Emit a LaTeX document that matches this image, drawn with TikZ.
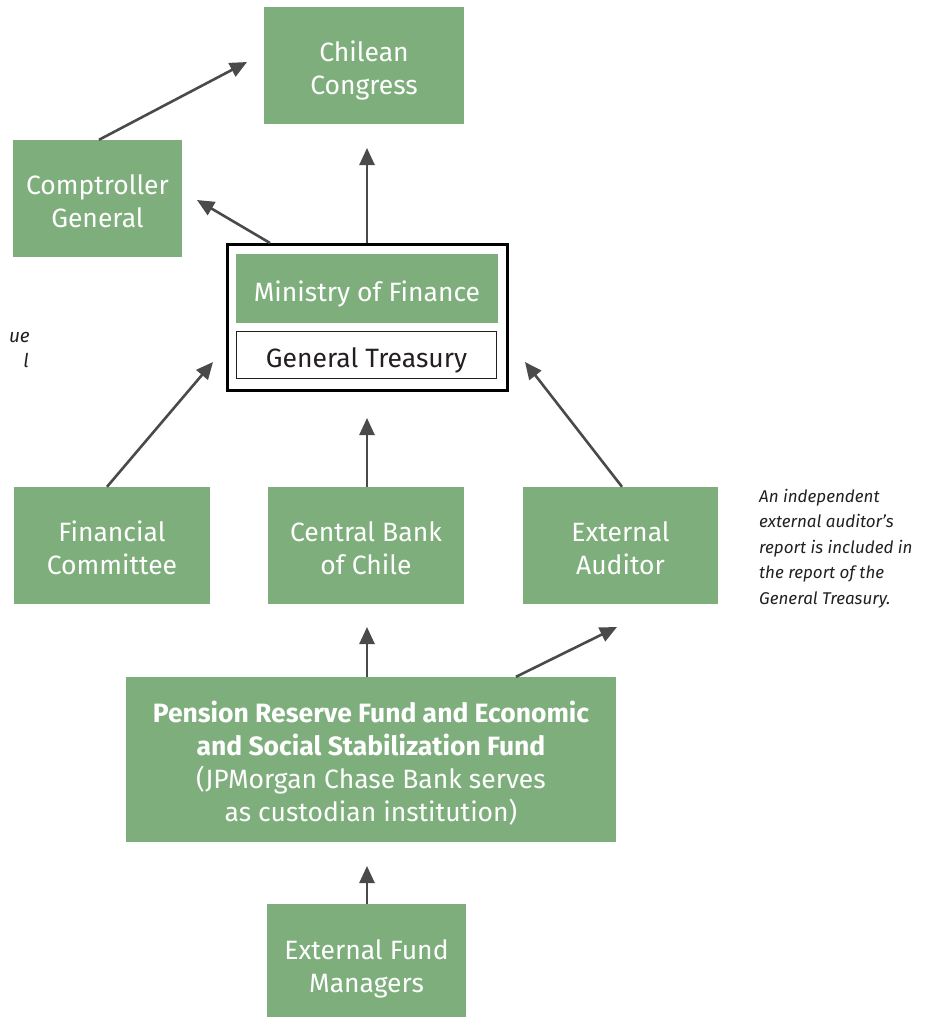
\documentclass[tikz,border=0pt]{standalone}
\usepackage{fontspec}
\setmainfont{Fira Sans}
\usetikzlibrary{arrows.meta,calc}
\definecolor{boxgreen}{HTML}{7EAE7C}
\definecolor{arrowgray}{HTML}{4A4A4A}
\definecolor{textdark}{HTML}{231F20}
\newcommand{\topstr}{\rule{0pt}{31pt}}
\newcommand{\botstr}{\rule[-6pt]{0pt}{6pt}}
\begin{document}
\begin{tikzpicture}[x=1pt,y=-1pt,
 gbox/.style={fill=boxgreen, text=white, align=center, font=\fontsize{26.5}{33}\selectfont, inner sep=0pt},
 link/.style={draw=arrowgray, line width=2.6pt, -{Triangle[length=17pt,width=15pt]}},
 note/.style={text=textdark, align=left, font=\fontsize{17}{25.5}\selectfont\itshape, inner sep=0pt},
]
\useasboundingbox (0,0) rectangle (926,1017);
\node[gbox, minimum width=200, minimum height=117] (congress) at (364,65.5) {\topstr Chilean\\Congress\botstr};
\node[gbox, minimum width=169, minimum height=117] (comptroller) at (97.5,198.5) {\topstr Comptroller\\General\botstr};
\node[draw=black, line width=3pt, minimum width=280, minimum height=146, inner sep=0pt] (outer) at (367.5,317.5) {};
\node[gbox, minimum width=262, minimum height=69] (ministry) at (367,288.5) {\topstr Ministry of Finance\botstr};
\node[draw=textdark, line width=1.2pt, text=textdark, align=center, font=\fontsize{26.5}{33}\selectfont, minimum width=260, minimum height=47, inner sep=0pt] (treasury) at (366.5,355) {\topstr General Treasury\botstr};
\node[gbox, minimum width=196, minimum height=117] (fincomm) at (112,545.5) {\topstr Financial\\Committee\botstr};
\node[gbox, minimum width=196, minimum height=117] (centralbank) at (366,545.5) {\topstr Central Bank\\of Chile\botstr};
\node[gbox, minimum width=195, minimum height=117] (extaud) at (620.5,545.5) {\topstr External\\Auditor\botstr};
\node[gbox, minimum width=490, minimum height=165] (pension) at (371,759.5) {\topstr\textbf{Pension Reserve Fund and Economic}\\\textbf{and Social Stabilization Fund}\\(JPMorgan Chase Bank serves\\as custodian institution)\botstr};
\node[gbox, minimum width=199, minimum height=118] (extfm) at (366.5,963) {\topstr External Fund\\Managers\botstr};

\node[note, anchor=north west] (auditnote) at (759,489) {An independent\\external auditor’s\\report is included in\\the report of the\\General Treasury.};
\node[note, anchor=base east, font=\fontsize{19}{25.5}\selectfont\itshape] (frag1) at (30,342) {ue};
\node[note, anchor=base east, font=\fontsize{19}{25.5}\selectfont\itshape] (frag2) at (29,367) {l};

\coordinate (t1) at (247,62);
\coordinate (t2) at (367,148);
\coordinate (t3) at (197,200);
\coordinate (t4) at (213,362);
\coordinate (t5) at (367,418);
\coordinate (t6) at (525,362);
\coordinate (t7) at (367,627);
\coordinate (t8) at (617,627);
\coordinate (t9) at (367,866);

\draw[link] ([xshift=1.5pt]comptroller.north) -- (t1);
\draw[link] ([xshift=-0.5pt]outer.north) -- (t2);
\draw[link] ([xshift=44pt]outer.north west) -- (t3);
\draw[link] ([xshift=-5pt]fincomm.north) -- (t4);
\draw[link] ([xshift=1pt]centralbank.north) -- (t5);
\draw[link] ([xshift=1.5pt]extaud.north) -- (t6);
\draw[link] ([xshift=-4pt]pension.north) -- (t7);
\draw[link] ([xshift=145pt]pension.north) -- (t8);
\draw[link] ([xshift=0.5pt]extfm.north) -- (t9);
\end{tikzpicture}
\end{document}
